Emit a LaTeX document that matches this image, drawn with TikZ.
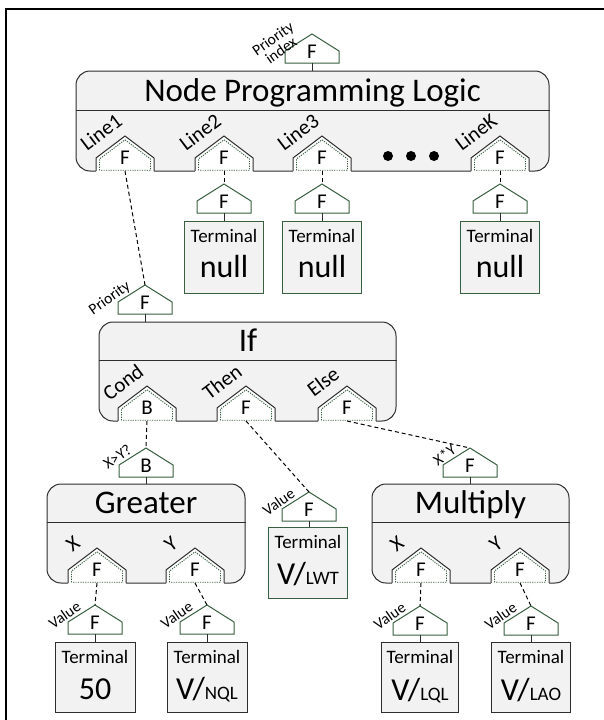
\documentclass[tikz,border=0pt]{standalone}
\usepackage{fontspec}
\setmainfont{Carlito}
\usetikzlibrary{calc}
\definecolor{logicGreen}{RGB}{56,95,64}
\definecolor{logicFill}{RGB}{242,242,242}
\definecolor{logicEdge}{RGB}{45,45,45}

\begin{document}
\begin{tikzpicture}[
  x=1pt, y=-1pt,
  edge/.style={draw=logicEdge, line width=1pt},
  stem/.style={draw=logicEdge, line width=1pt},
  link/.style={draw=black, line width=1pt, dash pattern=on 4pt off 3pt},
  fnbox/.style={rectangle, rounded corners=14pt, draw=logicEdge, fill=logicFill,
    line width=1pt, inner sep=0pt},
  term/.style={rectangle, draw=#1, fill=logicFill, line width=1pt, inner sep=0pt},
  term/.default=logicEdge,
  title/.style={font=\fontsize{33}{33}\selectfont, inner sep=0pt, anchor=base},
  letter/.style={font=\fontsize{21}{21}\selectfont, inner sep=0pt},
  termhead/.style={font=\fontsize{19}{19}\selectfont, inner sep=0pt, anchor=base},
  termval/.style={font=\fontsize{32}{32}\selectfont, inner sep=0pt, anchor=base},
  plabel/.style={font=\fontsize{21}{21}\selectfont, rotate=37, anchor=center, inner sep=0pt},
  vlabel/.style={font=\fontsize{15.5}{13}\selectfont, rotate=35, anchor=east,
    inner sep=0pt, align=center},
  portdots/.style={draw=logicGreen, line width=0.9pt, dash pattern=on 1.2pt off 1.2pt},
  pentline/.style={draw=logicGreen, fill=white, line width=1pt},
  % input port sitting on the lower edge of a block
  port/.pic={
    \fill[white] (-29,1.2) -- (-29,-13) -- (0,-35) -- (29,-13) -- (29,1.2) -- cycle;
    \draw[edge] (-29,0) -- (-29,-13) -- (0,-35) -- (29,-13) -- (29,0);
    \draw[portdots] (-25.5,-0.8) -- (-25.5,-12) -- (0,-31.2) -- (25.5,-12) -- (25.5,-0.8) -- cycle;
    \node[letter] (-f) at (0,-13) {#1};
    \coordinate (-out) at (0,0);
    \coordinate (-tag) at (-24,-39);
  },
  % free output tag
  pent/.pic={
    \draw[pentline] (-27,0) -- (-27,-12) -- (0,-29) -- (27,-12) -- (27,0) -- cycle;
    \node[letter] (-f) at (0,-11) {#1};
    \coordinate (-in) at (0,-29);
    \coordinate (-out) at (0,0);
    \coordinate (-tag) at (-16,-29);
  }
]
\useasboundingbox (0,0) rectangle (604,720);
\draw[line width=2pt] (5.5,720) -- (5.5,9) -- (604,9);

% top block
\node[fnbox, minimum width=473pt, minimum height=100pt] (npl) at (312.5,121) {};
\draw[edge] (npl.west |- 0,110) -- (npl.east |- 0,110);
\node[title] (npl-t) at (312.5,101) {Node Programming Logic};
\pic (pidx) at (312,63) {pent=F};
\draw[stem] (pidx-out) -- (pidx-out |- npl.north);
\node[vlabel] (pidx-lab) at ($(pidx-tag)+(0,-3)$) {Priority\\index};

\pic (pl1) at (125,171) {port=F};
\pic (pl2) at (224,171) {port=F};
\pic (pl3) at (322,171) {port=F};
\pic (plk) at (500,171) {port=F};
\node[plabel] (pl1-lab) at (pl1-tag) {Line1};
\node[plabel] (pl2-lab) at (pl2-tag) {Line2};
\node[plabel] (pl3-lab) at (pl3-tag) {Line3};
\node[plabel] (plk-lab) at (plk-tag) {LineK};
\foreach \dx in {388,411,434}
  \fill (\dx,156) circle (5pt);

% unused lines end in null terminals
\pic (c2) at (224,213) {pent=F};
\pic (c3) at (322,213) {pent=F};
\pic (ck) at (500,213) {pent=F};
\draw[link] (pl2-out) -- (c2-in);
\draw[link] (pl3-out) -- (c3-in);
\draw[link] (plk-out) -- (ck-in);
\node[term=logicGreen, minimum width=79pt, minimum height=72pt] (t2) at (224,257) {};
\node[term=logicGreen, minimum width=79pt, minimum height=72pt] (t3) at (322,257) {};
\node[term=logicGreen, minimum width=79pt, minimum height=72pt] (tk) at (500,257) {};
\draw[stem] (c2-out) -- (t2.north);
\draw[stem] (c3-out) -- (t3.north);
\draw[stem] (ck-out) -- (tk.north);
\node[termhead] (t2-h) at ($(t2.north)+(0,21.5)$) {Terminal};
\node[termhead] (t3-h) at ($(t3.north)+(0,21.5)$) {Terminal};
\node[termhead] (tk-h) at ($(tk.north)+(0,21.5)$) {Terminal};
\node[termval] (t2-v) at ($(t2.north)+(0,57)$) {null};
\node[termval] (t3-v) at ($(t3.north)+(0,57)$) {null};
\node[termval] (tk-v) at ($(tk.north)+(0,57)$) {null};

% if block
\pic (prio) at (145,314) {pent=F};
\draw[link] (pl1-out) -- (prio-in);
\node[vlabel] (prio-lab) at (prio-tag) {Priority};
\node[fnbox, minimum width=297pt, minimum height=99pt] (iff) at (247.5,371.5) {};
\draw[stem] (prio-out) -- (prio-out |- iff.north);
\draw[edge] (iff.west |- 0,360) -- (iff.east |- 0,360);
\node[title] (iff-t) at (248,351) {If};
\pic (pc) at (147,421) {port=B};
\pic (pt) at (246,421) {port=F};
\pic (pe) at (347,421) {port=F};
\node[plabel] (pc-lab) at (pc-tag) {Cond};
\node[plabel] (pt-lab) at (pt-tag) {Then};
\node[plabel] (pe-lab) at (pe-tag) {Else};

% condition
\pic (cmp) at (146,477) {pent=B};
\draw[link] (pc-out) -- (cmp-in);
\node[vlabel] (cmp-lab) at (cmp-tag) {X>Y?};
\node[fnbox, minimum width=198pt, minimum height=99pt] (gt) at (146,533.5) {};
\draw[stem] (cmp-out) -- (cmp-out |- gt.north);
\draw[edge] (gt.west |- 0,522) -- (gt.east |- 0,522);
\node[title] (gt-t) at (146,513) {Greater};
\pic (gx) at (97,583) {port=F};
\pic (gy) at (195,583) {port=F};
\node[plabel] (gx-lab) at (gx-tag) {X};
\node[plabel] (gy-lab) at (gy-tag) {Y};

\pic (gvx) at (95,634) {pent=F};
\pic (gvy) at (207,634) {pent=F};
\draw[link] (gx-out) -- (gvx-in);
\draw[link] (gy-out) -- (gvy-in);
\node[vlabel] (gvx-lab) at (gvx-tag) {Value};
\node[vlabel] (gvy-lab) at (gvy-tag) {Value};
\node[term, minimum width=80pt, minimum height=70pt] (t50) at (95,677) {};
\node[term, minimum width=80pt, minimum height=70pt] (tnql) at (207,677) {};
\draw[stem] (gvx-out) -- (t50.north);
\draw[stem] (gvy-out) -- (tnql.north);
\node[termhead] (t50-h) at ($(t50.north)+(0,21.5)$) {Terminal};
\node[termhead] (tnql-h) at ($(tnql.north)+(0,21.5)$) {Terminal};
\node[termval] (t50-v) at ($(t50.north)+(0,58)$) {50};
\node[termval] (tnql-v) at ($(tnql.north)+(0,58)$) {V/{\fontsize{19}{19}\selectfont NQL}};

% then branch
\pic (tv) at (309,521) {pent=F};
\draw[link] (pt-out) -- (tv-in);
\node[vlabel] (tv-lab) at (tv-tag) {Value};
\node[term=logicGreen, minimum width=79pt, minimum height=71pt] (tlwt) at (308,562.5) {};
\draw[stem] (tv-out) -- (tv-out |- tlwt.north);
\node[termhead] (tlwt-h) at ($(tlwt.north)+(0,21.5)$) {Terminal};
\node[termval] (tlwt-v) at ($(tlwt.north)+(0,58)$) {V/{\fontsize{19}{19}\selectfont LWT}};

% else branch
\pic (mul) at (470,477) {pent=F};
\draw[link] (pe-out) -- (mul-in);
\node[vlabel] (mul-lab) at (mul-tag) {X*Y};
\node[fnbox, minimum width=197pt, minimum height=99pt] (mu) at (470.5,533.5) {};
\draw[stem] (mul-out) -- (mul-out |- mu.north);
\draw[edge] (mu.west |- 0,522) -- (mu.east |- 0,522);
\node[title] (mu-t) at (470.5,513) {Multiply};
\pic (mx) at (421,583) {port=F};
\pic (my) at (520,583) {port=F};
\node[plabel] (mx-lab) at (mx-tag) {X};
\node[plabel] (my-lab) at (my-tag) {Y};

\pic (mvx) at (420,635) {pent=F};
\pic (mvy) at (531,635) {pent=F};
\draw[link] (mx-out) -- (mvx-in);
\draw[link] (my-out) -- (mvy-in);
\node[vlabel] (mvx-lab) at (mvx-tag) {Value};
\node[vlabel] (mvy-lab) at (mvy-tag) {Value};
\node[term, minimum width=77pt, minimum height=70pt] (tlql) at (420,677.5) {};
\node[term, minimum width=79pt, minimum height=70pt] (tlao) at (531,677.5) {};
\draw[stem] (mvx-out) -- (tlql.north);
\draw[stem] (mvy-out) -- (tlao.north);
\node[termhead] (tlql-h) at ($(tlql.north)+(0,21.5)$) {Terminal};
\node[termhead] (tlao-h) at ($(tlao.north)+(0,21.5)$) {Terminal};
\node[termval] (tlql-v) at ($(tlql.north)+(0,58)$) {V/{\fontsize{19}{19}\selectfont LQL}};
\node[termval] (tlao-v) at ($(tlao.north)+(0,58)$) {V/{\fontsize{19}{19}\selectfont LAO}};
\end{tikzpicture}
\end{document}
